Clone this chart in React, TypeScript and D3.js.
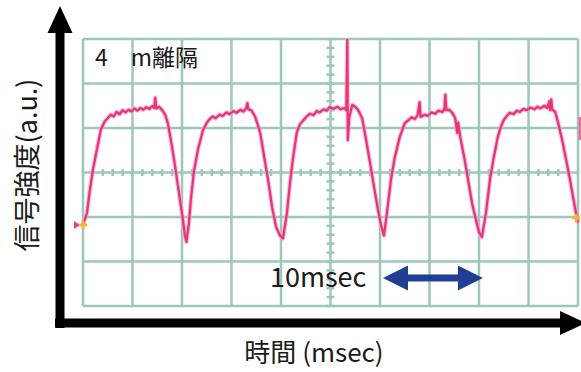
import React from "react";
import * as d3 from "d3";

// scope trace: [time ms, level in divisions from bottom]
const trace: [number, number][] = [
  [0.0, 1.82], [0.4, 2.09], [0.7, 2.61], [1.0, 3.06], [1.4, 3.51], [1.8, 3.96], [2.2, 4.15], [2.5, 4.22],
  [2.8, 4.3], [3.1, 4.26], [3.4, 4.36], [3.7, 4.31], [4.0, 4.4], [4.3, 4.35], [4.6, 4.41], [4.9, 4.37],
  [5.2, 4.44], [5.5, 4.39], [5.8, 4.45], [6.1, 4.41], [6.4, 4.47], [6.7, 4.43], [7.0, 4.49], [7.2, 4.45],
  [7.3, 4.68], [7.4, 4.44], [7.7, 4.48], [8.0, 4.4], [8.3, 4.3], [8.6, 4.08], [9.0, 3.57], [9.4, 2.99],
  [9.8, 2.38], [10.1, 1.93], [10.3, 1.58], [10.45, 1.44],
  [10.7, 1.87], [10.9, 2.4], [11.2, 3.02], [11.6, 3.5], [12.1, 3.94], [12.5, 4.12], [12.8, 4.2], [13.1, 4.26],
  [13.4, 4.22], [13.8, 4.3], [14.1, 4.27], [14.5, 4.35], [14.8, 4.31], [15.2, 4.38], [15.5, 4.34], [15.9, 4.41],
  [16.2, 4.37], [16.5, 4.45], [16.6, 4.56], [16.7, 4.42], [17.0, 4.4], [17.4, 4.25], [17.9, 3.89], [18.3, 3.35],
  [18.7, 2.83], [19.1, 2.22], [19.5, 1.78], [19.9, 1.58], [20.2, 1.52],
  [20.6, 2.09], [20.9, 2.75], [21.2, 3.3], [21.6, 3.9], [21.9, 4.08], [22.2, 4.16], [22.6, 4.26], [22.9, 4.32],
  [23.3, 4.29], [23.6, 4.38], [23.9, 4.35], [24.3, 4.42], [24.6, 4.39], [24.9, 4.47], [25.3, 4.43], [25.7, 4.48],
  [26.0, 4.42], [26.4, 4.45], [26.6, 4.4], [26.7, 5.98], [26.75, 3.73], [26.9, 4.25], [27.2, 4.52], [27.5, 4.48],
  [27.8, 4.4], [28.2, 4.22], [28.6, 3.73], [29.0, 3.21], [29.4, 2.67], [29.8, 2.16], [30.1, 1.82], [30.4, 1.58],
  [30.7, 2.09], [31.1, 2.83], [31.5, 3.35], [32.0, 3.8], [32.5, 4.11], [32.9, 4.18], [33.2, 4.24], [33.5, 4.2],
  [33.8, 4.29], [34.0, 4.58], [34.1, 4.25], [34.5, 4.3], [34.8, 4.27], [35.2, 4.35], [35.6, 4.32], [35.9, 4.39],
  [36.3, 4.36], [36.5, 4.42], [36.6, 4.75], [36.7, 4.4], [37.0, 4.41], [37.3, 4.34], [37.6, 4.22], [37.8, 3.89],
  [37.9, 4.12], [38.1, 3.8], [38.5, 3.35], [38.9, 2.83], [39.3, 2.31], [39.7, 1.93], [40.0, 1.66], [40.3, 1.55],
  [40.7, 2.09], [41.1, 2.83], [41.5, 3.35], [41.9, 3.8], [42.2, 4.02], [42.5, 4.18], [42.8, 4.27], [43.1, 4.34],
  [43.5, 4.31], [43.8, 4.39], [44.1, 4.36], [44.5, 4.43], [44.8, 4.4], [45.2, 4.46], [45.6, 4.42], [45.9, 4.48],
  [46.2, 4.44], [46.6, 4.5], [46.9, 4.45], [47.1, 4.6], [47.2, 4.4], [47.3, 4.64], [47.4, 4.42], [47.7, 4.36],
  [48.0, 4.11], [48.4, 3.73], [48.8, 3.28], [49.2, 2.83], [49.5, 2.45], [49.8, 2.09], [50.0, 1.87],
];

const timeTicks = d3.range(0, 51, 5); // 5 msec / div
const levelTicks = d3.range(0, 7, 1);
const groundLevel = [1.82, 1.98]; // left / right reference markers
const spanMarker = [30.3, 40.4]; // 10 msec
const spanLevel = 0.63;

const labelTitle = "4\u3000m離隔";
const labelSpan = "10msec";
const labelX = "時間 (msec)";
const labelY = "信号強度(a.u.)";

const W = 581;
const H = 372;
const font = "'Noto Sans CJK JP', 'Noto Sans', sans-serif";

export default function App() {
  const x = d3.scaleLinear().domain([0, 50]).range([83, 578]);
  const y = d3.scaleLinear().domain([0, 6]).range([306, 39]);
  const gridColor = "#9cc8ba";

  const line = d3
    .line<[number, number]>()
    .x((d) => x(d[0]))
    .y((d) => y(d[1]));

  const minorX = d3.range(0, 50.01, 1);
  const minorY = d3.range(0, 6.01, 0.2);

  const ax = 60; // y axis position
  const ay = 323; // x axis position
  const sx0 = x(spanMarker[0]);
  const sx1 = x(spanMarker[1]);
  const sy = y(spanLevel);

  return (
    <svg width={W} height={H} style={{ position: "absolute", left: 0, top: 0, background: "#fff" }}>
      {/* grid */}
      <g stroke={gridColor} strokeWidth={2.5}>
        {timeTicks.map((t) => (
          <line key={"v" + t} x1={x(t)} x2={x(t)} y1={y(6)} y2={y(0)} />
        ))}
        {levelTicks.map((v) => (
          <line key={"h" + v} x1={x(0)} x2={x(50)} y1={y(v)} y2={y(v)} />
        ))}
        {minorX.map((t) => (
          <line key={"mx" + t} x1={x(t)} x2={x(t)} y1={y(3) - 3.5} y2={y(3) + 3.5} />
        ))}
        {minorY.map((v) => (
          <line key={"my" + v} x1={x(25) - 4} x2={x(25) + 4} y1={y(v)} y2={y(v)} />
        ))}
      </g>

      {/* trace */}
      <path d={line(trace) ?? ""} fill="none" stroke="#f3a6c6" strokeWidth={4.5} strokeOpacity={0.7} strokeLinejoin="round" />
      <path d={line(trace) ?? ""} fill="none" stroke="#e6357b" strokeWidth={2.3} strokeLinejoin="round" />
      <line x1={x(50) + 2} x2={x(50) + 2} y1={y(4.25)} y2={y(3.73)} stroke="#ee6a9c" strokeWidth={3} />

      {/* ground reference markers */}
      <path
        d={`M${x(0) - 9},${y(groundLevel[0]) - 4}L${x(0) - 3},${y(groundLevel[0])}L${x(0) - 9},${y(groundLevel[0]) + 4}Z`}
        fill="#e8408a"
      />
      <path
        d={d3.symbol(d3.symbolCross, 40)() ?? ""}
        transform={`translate(${x(0)},${y(groundLevel[0])})`}
        fill="#f7b43a"
      />
      <path
        d={d3.symbol(d3.symbolCross, 40)() ?? ""}
        transform={`translate(${x(50) - 2},${y(groundLevel[1])})`}
        fill="#f7b43a"
      />

      {/* axes arrows */}
      <line x1={ax} x2={ax} y1={ay + 5} y2={30} stroke="#000" strokeWidth={9} />
      <path d={`M${ax - 12.5},33L${ax + 12.5},33L${ax},6Z`} fill="#000" />
      <line x1={ax - 5} x2={562} y1={ay} y2={ay} stroke="#000" strokeWidth={9} />
      <path d={`M560,${ay - 12}L560,${ay + 12}L586,${ay}Z`} fill="#000" />

      {/* 10 msec span arrow */}
      <g fill="#1f3f95">
        <rect x={sx0 + 20} y={sy - 3.5} width={sx1 - sx0 - 40} height={7} />
        <path d={`M${sx0},${sy}L${sx0 + 25},${sy - 12.5}L${sx0 + 25},${sy + 12.5}Z`} />
        <path d={`M${sx1},${sy}L${sx1 - 25},${sy - 12.5}L${sx1 - 25},${sy + 12.5}Z`} />
      </g>

      {/* texts */}
      <text x={95} y={66} fontFamily={font} fontSize={23} fill="#1a1a1a">
        {labelTitle}
      </text>
      <text x={270} y={287} fontFamily={font} fontSize={27} fill="#1a1a1a">
        {labelSpan}
      </text>
      <text x={314} y={362} fontFamily={font} fontSize={26} fill="#1a1a1a" textAnchor="middle">
        {labelX}
      </text>
      <text
        transform={`translate(37,165) rotate(-90)`}
        fontFamily={font}
        fontSize={27}
        fill="#1a1a1a"
        textAnchor="middle"
      >
        {labelY}
      </text>
    </svg>
  );
}
